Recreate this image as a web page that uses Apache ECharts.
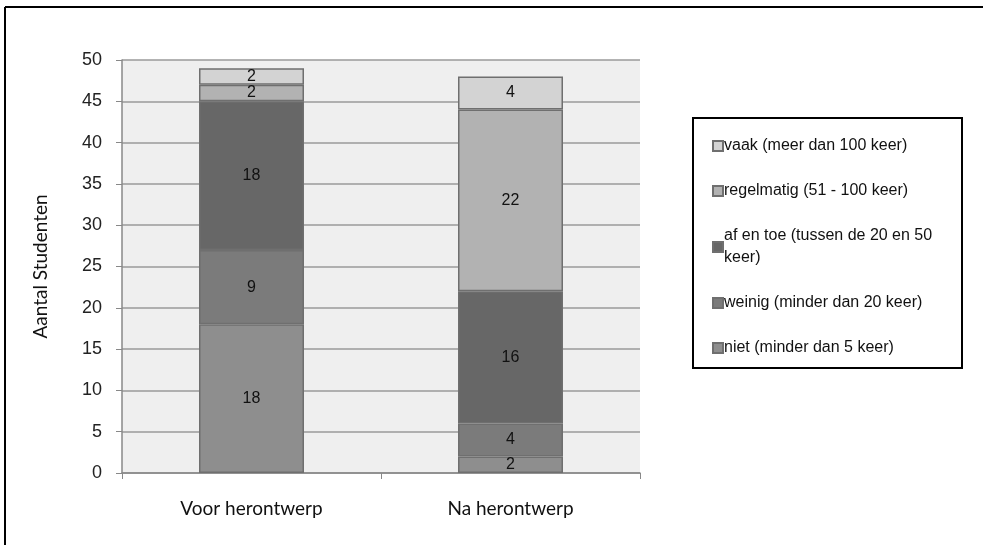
<!DOCTYPE HTML>
<html>
<head>
<meta charset="utf-8">
<title>Aantal Studenten</title>
<script src="https://cdn.jsdelivr.net/npm/echarts@6/dist/echarts.min.js"></script>
<style>
html,body{margin:0;padding:0;background:#fff;}
#main{width:983px;height:545px;}
</style>
</head>
<body>
<div id="main"></div>
<script type="text/javascript">
// data
var categories = ['Voor herontwerp', 'Na herontwerp'];
var niet = [18, 2];
var weinig = [9, 4];
var afEnToe = [18, 16];
var regelmatig = [2, 22];
var vaak = [2, 4];
var yTicks = [0, 5, 10, 15, 20, 25, 30, 35, 40, 45, 50];

var names = [
	'niet (minder dan 5 keer)',
	'weinig (minder dan 20 keer)',
	'af en toe (tussen de 20 en 50 keer)',
	'regelmatig (51 - 100 keer)',
	'vaak (meer dan 100 keer)'
];
var values = [niet, weinig, afEnToe, regelmatig, vaak];
var colors = ['#8e8e8e', '#7b7b7b', '#676767', '#b2b2b2', '#d3d3d3'];

var myChart = echarts.init(document.getElementById('main'));

var series = [];
for (var i = 0; i < names.length; i++) {
	series.push({
		name: names[i],
		type: 'bar',
		stack: 'total',
		barWidth: 105,
		data: values[i],
		itemStyle: { color: colors[i], borderColor: '#6f6f6f', borderWidth: 1.5 },
		label: {
			show: true,
			position: 'inside',
			color: '#111',
			fontFamily: 'Liberation Sans, Arial',
			fontSize: 16
		}
	});
}

var option = {
	animation: false,
	color: colors,
	grid: {
		left: 122, right: 343, top: 60, bottom: 72,
		show: true, backgroundColor: '#efefef', borderWidth: 0
	},
	legend: {
		orient: 'vertical',
		left: 707, top: 130,
		data: names.slice().reverse(),
		itemWidth: 10, itemHeight: 10,
		itemGap: 23,
		icon: 'rect',
		formatter: function (name) {
			if (name.indexOf('af en toe') === 0) return 'af en toe (tussen de 20 en 50\nkeer)';
			return name;
		},
		textStyle: { fontFamily: 'Liberation Sans, Arial', fontSize: 16, color: '#111', lineHeight: 22, padding: [0, 0, 0, -4] }
	},
	xAxis: {
		type: 'category',
		data: categories,
		axisLine: { lineStyle: { color: '#888', width: 1.5 } },
		axisTick: { show: true, length: 6, lineStyle: { color: '#888' } },
		axisLabel: { margin: 26, fontSize: 19, color: '#111', fontFamily: 'Lato, sans-serif' }
	},
	yAxis: {
		type: 'value',
		min: 0, max: 50, interval: 5,
		name: 'Aantal Studenten',
		nameLocation: 'middle',
		nameGap: 72,
		nameTextStyle: { fontSize: 19, color: '#111', fontFamily: 'Lato, sans-serif' },
		axisLine: { show: true, lineStyle: { color: '#888', width: 1.5 } },
		axisTick: { show: true, length: 6, lineStyle: { color: '#888' } },
		splitLine: { lineStyle: { color: '#9a9a9a', width: 1.5 } },
		axisLabel: {
			fontSize: 18, color: '#222', margin: 20, fontFamily: 'Liberation Sans, Arial',
			formatter: function (v) { return yTicks.indexOf(v) >= 0 ? String(v) : ''; }
		}
	},
	graphic: [
		{ type: 'line', shape: { x1: 5, y1: 7, x2: 983, y2: 7 }, style: { stroke: '#000', lineWidth: 2 } },
		{ type: 'line', shape: { x1: 5, y1: 7, x2: 5, y2: 545 }, style: { stroke: '#000', lineWidth: 2 } },
		{ type: 'rect', shape: { x: 693, y: 118, width: 269, height: 250 }, style: { fill: 'none', stroke: '#000', lineWidth: 2 } }
	],
	series: series
};

myChart.setOption(option);
</script>
</body>
</html>
